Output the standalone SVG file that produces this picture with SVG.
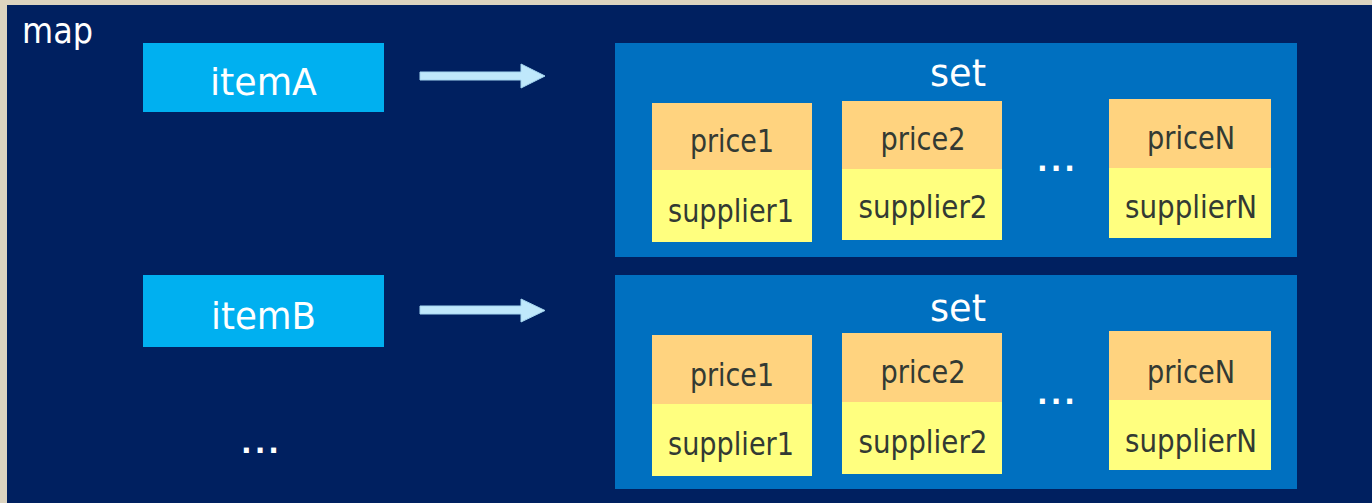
<svg xmlns="http://www.w3.org/2000/svg" width="1372" height="503" viewBox="0 0 1372 503">
<defs>
<style>
.bg{fill:#dcd4c0}
.map{fill:#002060}
.item{fill:#00b0f0}
.set{fill:#0070c0}
.price{fill:#ffd37f}
.sup{fill:#ffff7f}
.w{fill:#ffffff;font-family:"DejaVu Sans",sans-serif}
.big{font-size:38px;text-anchor:middle}
.d{fill:#333a33;font-family:"DejaVu Sans",sans-serif;font-size:32px;text-anchor:middle}
.dots{fill:#ffffff;font-family:"DejaVu Sans",sans-serif;font-size:28px;font-weight:bold;letter-spacing:3px}
.arrow{fill:#bfe8fb;stroke:#a5d6f0;stroke-width:1}
</style>
</defs>
<rect class="bg" x="0" y="0" width="1372" height="503"/>
<g id="map">
<rect class="map" x="7" y="5" width="1365" height="498"/>
<text class="w" x="22" y="43" font-size="36" textLength="71" lengthAdjust="spacingAndGlyphs">map</text>
</g>
<g id="itemA">
<rect class="item" x="143" y="43" width="241" height="69"/>
<text class="w big" x="263.5" y="95" textLength="107" lengthAdjust="spacingAndGlyphs">itemA</text>
</g>
<g id="itemB">
<rect class="item" x="143" y="275" width="241" height="72"/>
<text class="w big" x="263.5" y="329" textLength="105" lengthAdjust="spacingAndGlyphs">itemB</text>
</g>
<text id="itemDots" class="dots" x="241" y="453">...</text>
<g id="set1">
<rect class="set" x="615" y="43" width="682" height="214"/>
<text class="w big" x="958" y="86" font-size="42" textLength="56" lengthAdjust="spacingAndGlyphs">set</text>
<rect class="price" x="652" y="103" width="160" height="67"/>
<rect class="sup" x="652" y="170" width="160" height="72"/>
<text class="d" x="732" y="152" textLength="84" lengthAdjust="spacingAndGlyphs">price1</text>
<text class="d" x="731" y="222" textLength="126" lengthAdjust="spacingAndGlyphs">supplier1</text>
<rect class="price" x="842" y="101" width="160" height="68"/>
<rect class="sup" x="842" y="169" width="160" height="71"/>
<text class="d" x="923" y="150" textLength="85" lengthAdjust="spacingAndGlyphs">price2</text>
<text class="d" x="923" y="218" textLength="129" lengthAdjust="spacingAndGlyphs">supplier2</text>
<text class="dots" x="1037" y="171">...</text>
<rect class="price" x="1109" y="99" width="162" height="69"/>
<rect class="sup" x="1109" y="168" width="162" height="70"/>
<text class="d" x="1191" y="149" textLength="88" lengthAdjust="spacingAndGlyphs">priceN</text>
<text class="d" x="1191" y="218" textLength="132" lengthAdjust="spacingAndGlyphs">supplierN</text>
</g>
<g id="set2">
<rect class="set" x="615" y="275" width="682" height="214"/>
<text class="w big" x="958" y="321" font-size="42" textLength="56" lengthAdjust="spacingAndGlyphs">set</text>
<rect class="price" x="652" y="335" width="160" height="69"/>
<rect class="sup" x="652" y="404" width="160" height="72"/>
<text class="d" x="732" y="386" textLength="84" lengthAdjust="spacingAndGlyphs">price1</text>
<text class="d" x="731" y="455" textLength="126" lengthAdjust="spacingAndGlyphs">supplier1</text>
<rect class="price" x="842" y="333" width="160" height="69"/>
<rect class="sup" x="842" y="402" width="160" height="72"/>
<text class="d" x="923" y="383" textLength="85" lengthAdjust="spacingAndGlyphs">price2</text>
<text class="d" x="923" y="453" textLength="129" lengthAdjust="spacingAndGlyphs">supplier2</text>
<text class="dots" x="1037" y="404">...</text>
<rect class="price" x="1109" y="331" width="162" height="69"/>
<rect class="sup" x="1109" y="400" width="162" height="70"/>
<text class="d" x="1191" y="383" textLength="88" lengthAdjust="spacingAndGlyphs">priceN</text>
<text class="d" x="1191" y="452" textLength="132" lengthAdjust="spacingAndGlyphs">supplierN</text>
</g>
<g id="connectors">
<polygon class="arrow" points="420,72 521,72 521,64 545,76 521,88 521,80 420,80"/>
<polygon class="arrow" points="420,306 521,306 521,299 545,310.5 521,322 521,314 420,314"/>
</g>
</svg>
